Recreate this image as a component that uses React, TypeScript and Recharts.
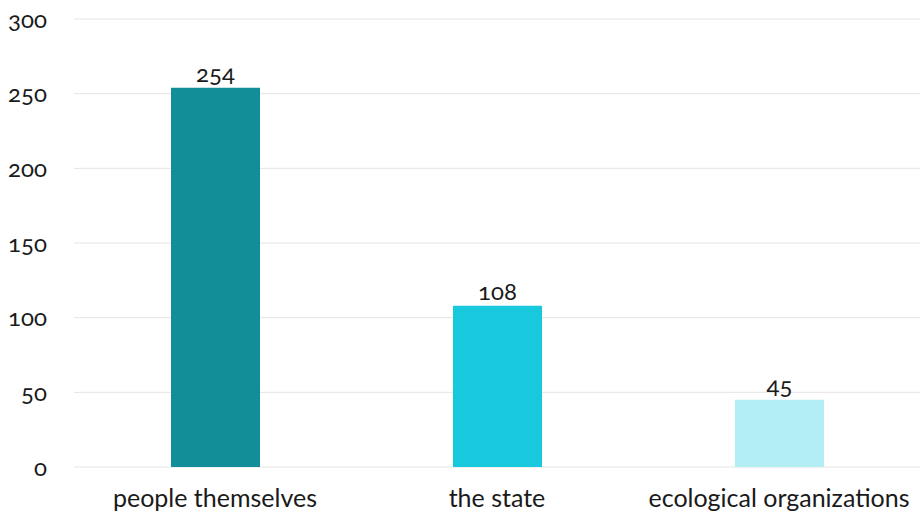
import React from 'react'
import { BarChart, Bar, XAxis, YAxis, CartesianGrid, Cell, LabelList } from 'recharts'

const categories = ['people themselves', 'the state', 'ecological organizations']
const counts = [254, 108, 45]
const barColors = ['#128e99', '#18c8dc', '#b3eef4']
const yTicks = [0, 50, 100, 150, 200, 250, 300]

const data = categories.map((name, i) => ({ name, value: counts[i] }))

const FONT = 'Lato, "Open Sans", sans-serif'

export default function App() {
  return (
    <div style={{ position: 'fixed', left: 0, top: 0, width: 920, height: 517, background: '#fff', fontFamily: FONT }}>
      <BarChart
        width={920}
        height={517}
        data={data}
        margin={{ top: 19, right: 0, left: 0, bottom: 0 }}
      >
        <CartesianGrid vertical={false} stroke="#e4e4e4" strokeWidth={1} />
        <XAxis
          dataKey="name"
          axisLine={false}
          tickLine={false}
          tickSize={0}
          tickMargin={22}
          height={50}
          interval={0}
          tick={{ fill: '#1a1a1a', fontSize: 25, fontFamily: FONT }}
        />
        <YAxis
          width={74}
          domain={[0, 300]}
          ticks={yTicks}
          axisLine={false}
          tickLine={false}
          tickSize={0}
          tickMargin={27}
          tick={{ fill: '#1a1a1a', fontSize: 24, fontFamily: FONT, style: { fontVariantNumeric: 'oldstyle-nums' } }}
        />
        <Bar dataKey="value" barSize={89} isAnimationActive={false}>
          {data.map((d, i) => (
            <Cell key={d.name} fill={barColors[i]} />
          ))}
          <LabelList
            dataKey="value"
            position="top"
            offset={6}
            style={{ fill: '#1a1a1a', fontSize: 24, fontFamily: FONT, fontVariantNumeric: 'oldstyle-nums' }}
          />
        </Bar>
      </BarChart>
    </div>
  )
}
